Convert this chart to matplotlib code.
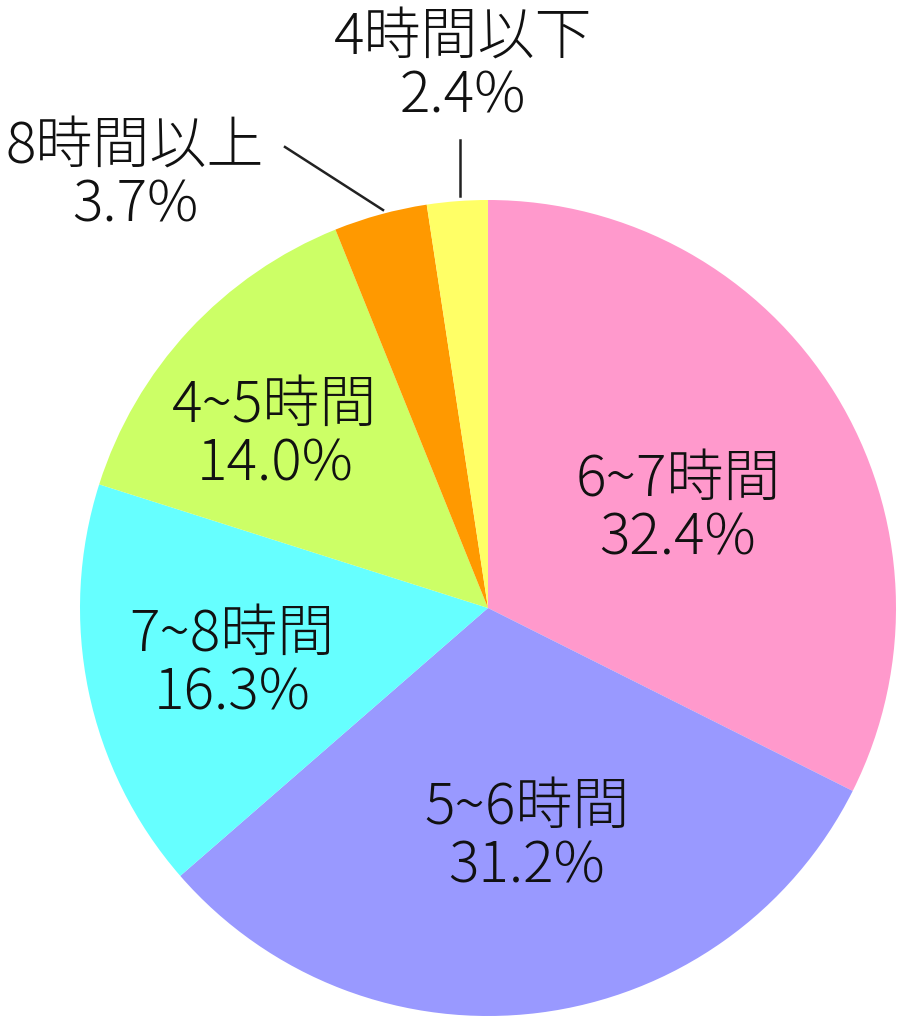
import matplotlib
matplotlib.use("Agg")
import matplotlib.pyplot as plt

plt.rcParams['font.family'] = ['Noto Sans CJK JP', 'DejaVu Sans']

labels = ["6~7時間", "5~6時間", "7~8時間", "4~5時間", "8時間以上", "4時間以下"]
shares = [32.4, 31.2, 16.3, 14.0, 3.7, 2.4]
colors = ["#FF99CC", "#9999FF", "#66FFFF", "#CCFF66", "#FF9900", "#FFFF66"]

# label centres in pixel coordinates (x, y from top)
label_pos = [(678, 509), (527, 837), (232, 664), (275, 435), (135, 176), (463, 67)]

fig = plt.figure(figsize=(9.06, 10.24), dpi=100)
ax = fig.add_axes([0, 0, 1, 1])

# y axis points down, so counterclock=True draws clockwise on screen
ax.pie(shares, colors=colors, startangle=-90, counterclock=True,
       center=(488, 608), radius=408, frame=True,
       wedgeprops=dict(linewidth=0))
ax.set_xlim(0, 906)
ax.set_ylim(1024, 0)
ax.set_aspect("equal")
ax.axis("off")

for lab, val, (x, y) in zip(labels, shares, label_pos):
    ax.text(x, y, f"{lab}\n{val:.1f}%", ha="center", va="center",
            fontsize=41, fontweight="light", linespacing=1.0, color="#111111")

# leader lines for the two small slices
ax.plot([383, 285], [210, 147], color="#222222", lw=1.8)
ax.plot([460, 460], [196, 140], color="#222222", lw=1.8)

fig.savefig("out.png", dpi=100)
